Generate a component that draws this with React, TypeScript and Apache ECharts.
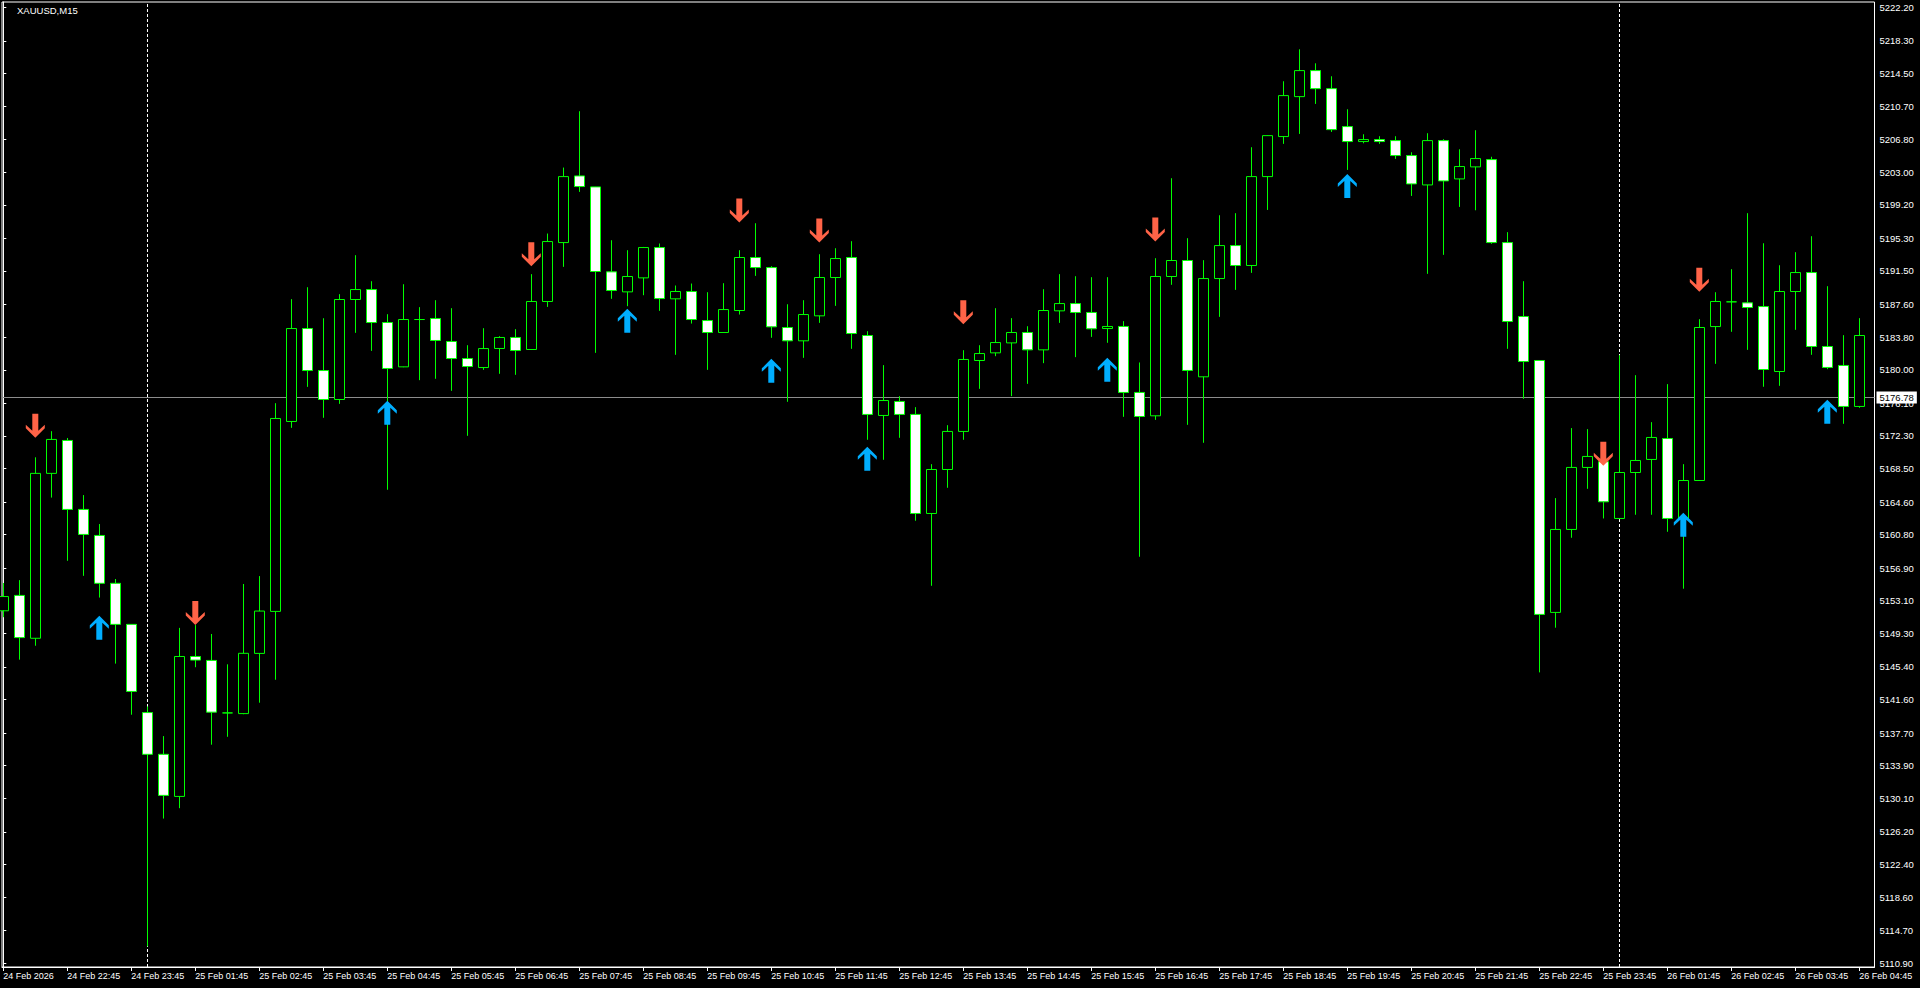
import React, { useEffect, useRef } from 'react';
import * as echarts from 'echarts';

const chartTitle = 'XAUUSD,M15';

const xTickLabels = [
  '24 Feb 2026', '24 Feb 22:45', '24 Feb 23:45',
  '25 Feb 01:45', '25 Feb 02:45', '25 Feb 03:45', '25 Feb 04:45', '25 Feb 05:45', '25 Feb 06:45',
  '25 Feb 07:45', '25 Feb 08:45', '25 Feb 09:45', '25 Feb 10:45', '25 Feb 11:45', '25 Feb 12:45',
  '25 Feb 13:45', '25 Feb 14:45', '25 Feb 15:45', '25 Feb 16:45', '25 Feb 17:45', '25 Feb 18:45',
  '25 Feb 19:45', '25 Feb 20:45', '25 Feb 21:45', '25 Feb 22:45', '25 Feb 23:45',
  '26 Feb 01:45', '26 Feb 02:45', '26 Feb 03:45', '26 Feb 04:45',
];
const barsPerLabel = 4;

const yTickLabels = [
  '5222.20', '5218.30', '5214.50', '5210.70', '5206.80', '5203.00', '5199.20', '5195.30',
  '5191.50', '5187.60', '5183.80', '5180.00', '5176.10', '5172.30', '5168.50', '5164.60',
  '5160.80', '5156.90', '5153.10', '5149.30', '5145.40', '5141.60', '5137.70', '5133.90',
  '5130.10', '5126.20', '5122.40', '5118.60', '5114.70', '5110.90',
];

const opens = [
  5151.94, 5153.73, 5148.74, 5167.94, 5171.77, 5163.74, 5160.71, 5155.14, 5150.36, 5140.09,
  5135.23, 5130.33, 5146.62, 5146.16, 5140.05, 5139.97, 5146.98, 5151.87, 5173.98, 5184.80,
  5179.91, 5176.54, 5188.18, 5189.34, 5185.50, 5180.34, 5185.85, 5185.97, 5183.29, 5181.31,
  5180.26, 5182.48, 5183.76, 5182.36, 5187.95, 5194.81, 5202.57, 5201.29, 5191.40, 5189.07,
  5190.70, 5194.23, 5188.26, 5189.11, 5185.73, 5184.34, 5186.90, 5193.07, 5191.90, 5184.92,
  5183.37, 5186.28, 5190.74, 5193.07, 5183.99, 5174.68, 5176.31, 5174.80, 5163.27, 5168.39,
  5172.82, 5181.08, 5181.97, 5183.13, 5184.34, 5182.32, 5186.86, 5187.71, 5186.67, 5184.80,
  5185.04, 5177.36, 5174.64, 5190.86, 5192.72, 5179.18, 5190.62, 5194.46, 5192.14, 5202.49,
  5207.15, 5211.80, 5214.83, 5212.73, 5208.31, 5206.57, 5206.80, 5206.68, 5204.94, 5201.52,
  5206.68, 5202.22, 5203.62, 5204.47, 5194.81, 5186.20, 5181.08, 5151.75, 5161.41, 5168.63,
  5169.30, 5162.69, 5168.04, 5169.56, 5172.00, 5162.69, 5167.11, 5185.03, 5187.91, 5187.79,
  5187.36, 5179.80, 5189.11, 5191.32, 5182.71, 5180.50, 5175.73,
];
const closes = [
  5153.60, 5148.82, 5167.94, 5171.89, 5163.74, 5160.83, 5155.14, 5150.36, 5142.55, 5135.23,
  5130.45, 5146.62, 5146.20, 5140.14, 5140.05, 5146.99, 5151.91, 5174.33, 5184.80, 5179.91,
  5176.54, 5188.18, 5189.34, 5185.50, 5180.15, 5185.85, 5185.85, 5183.41, 5181.31, 5180.38,
  5182.47, 5183.76, 5182.24, 5187.95, 5194.93, 5202.49, 5201.33, 5191.44, 5189.23, 5190.86,
  5194.23, 5188.29, 5189.11, 5185.85, 5184.34, 5187.01, 5193.07, 5191.90, 5185.00, 5183.37,
  5186.43, 5190.74, 5192.95, 5184.22, 5174.80, 5176.42, 5174.80, 5163.27, 5168.39, 5172.82,
  5181.20, 5181.89, 5183.17, 5184.34, 5182.32, 5186.90, 5187.71, 5186.67, 5184.77, 5185.04,
  5177.36, 5174.56, 5190.86, 5192.72, 5179.92, 5190.62, 5194.46, 5192.14, 5202.49, 5207.26,
  5211.92, 5214.83, 5212.73, 5207.96, 5206.57, 5206.80, 5206.57, 5204.94, 5201.64, 5206.68,
  5201.99, 5203.66, 5204.59, 5194.81, 5185.62, 5180.96, 5151.52, 5161.41, 5168.63, 5169.91,
  5164.63, 5168.04, 5169.44, 5172.12, 5162.69, 5167.11, 5184.92, 5187.95, 5187.91, 5187.25,
  5180.03, 5189.11, 5191.32, 5182.71, 5180.27, 5175.73, 5183.99,
];
const lows = [
  5151.19, 5146.25, 5147.87, 5165.12, 5157.76, 5156.01, 5153.48, 5145.79, 5139.84, 5112.87,
  5127.75, 5128.96, 5145.37, 5136.35, 5137.27, 5139.90, 5141.24, 5143.91, 5173.24, 5178.01,
  5174.41, 5176.03, 5184.30, 5182.20, 5166.03, 5180.30, 5178.79, 5178.95, 5177.55, 5172.31,
  5179.99, 5179.53, 5179.41, 5182.30, 5187.32, 5191.98, 5200.71, 5181.97, 5188.26, 5187.40,
  5188.68, 5186.86, 5181.74, 5185.38, 5179.99, 5184.30, 5186.43, 5190.93, 5183.72, 5176.27,
  5181.39, 5185.46, 5187.44, 5182.44, 5171.85, 5169.52, 5172.08, 5162.42, 5154.85, 5166.26,
  5171.85, 5177.78, 5181.58, 5176.93, 5178.36, 5180.77, 5185.46, 5181.47, 5183.83, 5183.14,
  5174.52, 5158.23, 5174.17, 5189.89, 5173.59, 5171.50, 5186.16, 5189.30, 5191.28, 5198.61,
  5206.30, 5207.46, 5210.95, 5207.69, 5203.27, 5206.37, 5206.30, 5204.55, 5200.24, 5191.17,
  5193.38, 5198.96, 5198.57, 5194.66, 5182.44, 5176.62, 5144.77, 5149.97, 5160.44, 5166.14,
  5162.69, 5162.60, 5163.12, 5163.12, 5161.14, 5154.51, 5167.10, 5180.69, 5184.42, 5182.32,
  5178.02, 5178.13, 5184.65, 5181.74, 5180.07, 5173.71, 5175.57,
];
const highs = [
  5155.18, 5155.51, 5169.81, 5172.85, 5172.06, 5165.41, 5162.04, 5155.64, 5150.36, 5140.80,
  5137.35, 5149.95, 5150.28, 5149.24, 5145.71, 5155.06, 5155.98, 5176.11, 5188.22, 5189.61,
  5186.00, 5188.80, 5193.34, 5190.31, 5186.47, 5189.96, 5187.29, 5188.10, 5187.17, 5182.86,
  5184.84, 5183.91, 5184.73, 5191.13, 5195.86, 5203.54, 5210.10, 5201.30, 5195.08, 5193.92,
  5194.30, 5194.70, 5189.81, 5190.04, 5189.03, 5190.08, 5193.92, 5197.06, 5192.06, 5187.63,
  5188.10, 5193.45, 5194.15, 5194.97, 5184.49, 5180.54, 5176.93, 5175.65, 5169.01, 5173.55,
  5182.28, 5182.86, 5187.17, 5186.01, 5185.07, 5189.38, 5191.13, 5190.89, 5190.78, 5190.78,
  5185.66, 5180.85, 5192.99, 5202.30, 5195.32, 5192.76, 5197.99, 5198.23, 5205.91, 5207.30,
  5213.59, 5217.31, 5215.68, 5214.17, 5210.33, 5207.42, 5207.19, 5207.19, 5205.32, 5207.54,
  5206.84, 5205.67, 5207.89, 5204.80, 5196.02, 5190.31, 5181.10, 5165.06, 5173.21, 5173.09,
  5170.00, 5181.70, 5179.37, 5173.90, 5178.33, 5169.01, 5185.89, 5189.03, 5191.71, 5198.23,
  5194.73, 5192.17, 5193.69, 5195.55, 5189.73, 5184.03, 5186.01,
];

const upArrowBars = [6, 24, 39, 48, 54, 69, 84, 105, 114];
const upArrowPrices = [5151.36, 5176.38, 5187.09, 5181.27, 5171.03, 5181.39, 5202.80, 5163.35, 5176.50];
const downArrowBars = [2, 12, 33, 46, 51, 60, 72, 100, 106];
const downArrowPrices = [5172.10, 5150.28, 5192.06, 5197.14, 5194.81, 5185.31, 5194.93, 5168.82, 5189.07];

const separatorBars = [9, 101];
const bidPrice = 5176.78;

const priceMin = 5110.469;
const priceMax = 5222.817;
const barMin = -0.08125;
const barMax = 116.95;

const FONT = "'Liberation Sans', Arial, sans-serif";
const UP_PATH = 'path://M9.5,0 L19,9.5 L19,13 L12.5,7 L12.5,24 L6.5,24 L6.5,7 L0,13 L0,9.5 Z';
const DOWN_PATH = 'path://M9.5,24 L19,14.5 L19,11 L12.5,17 L12.5,0 L6.5,0 L6.5,17 L0,11 L0,14.5 Z';

export default function App() {
  const ref = useRef<HTMLDivElement>(null);

  useEffect(() => {
    if (!ref.current) return;
    const chart = echarts.init(ref.current, null, { renderer: 'svg' });

    const candleData = opens.map((o, i) => [i, o, closes[i], lows[i], highs[i]]);
    const tickBars = xTickLabels.map((_, k) => k * barsPerLabel);
    const yTickValues = yTickLabels.map((s) => parseFloat(s));

    chart.setOption({
      animation: false,
      backgroundColor: '#000',
      title: {
        text: chartTitle,
        left: 17,
        top: 5,
        padding: 0,
        textStyle: { color: '#fff', fontSize: 9.5, fontWeight: 'normal', fontFamily: FONT },
      },
      grid: {
        left: 2,
        top: 2,
        right: 45.5,
        bottom: 21,
        show: true,
        borderColor: '#fff',
        borderWidth: 1,
        backgroundColor: '#000',
        containLabel: false,
      },
      xAxis: {
        type: 'value',
        min: barMin,
        max: barMax,
        position: 'bottom',
        splitLine: { show: false },
        axisLine: { show: true, lineStyle: { color: '#fff', width: 1 } },
        axisTick: { show: true, length: 4, lineStyle: { color: '#fff' }, customValues: tickBars },
        axisLabel: {
          show: true,
          customValues: tickBars,
          align: 'left',
          margin: 4,
          color: '#fff',
          fontSize: 9,
          fontFamily: FONT,
          formatter: (v: number) => xTickLabels[Math.round(v / barsPerLabel)] ?? '',
        },
      },
      yAxis: {
        type: 'value',
        position: 'right',
        min: priceMin,
        max: priceMax,
        scale: true,
        splitLine: { show: false },
        axisLine: { show: true, lineStyle: { color: '#fff', width: 1 } },
        axisTick: { show: true, length: 3, lineStyle: { color: '#fff' }, customValues: yTickValues },
        axisLabel: {
          show: true,
          customValues: yTickValues,
          margin: 5,
          color: '#fff',
          fontSize: 9.5,
          fontFamily: FONT,
          formatter: (v: number) => v.toFixed(2),
        },
      },
      series: [
        {
          type: 'line',
          data: [],
          silent: true,
          z: 1,
          markLine: {
            silent: true,
            symbol: 'none',
            animation: false,
            z: 1,
            data: [
              {
                yAxis: bidPrice,
                lineStyle: { color: '#8c8c8c', type: 'solid', width: 1 },
                label: {
                  show: true,
                  position: 'end',
                  distance: 2,
                  formatter: bidPrice.toFixed(2),
                  color: '#000',
                  backgroundColor: '#fff',
                  padding: [1, 3, 1, 3],
                  fontSize: 9.5,
                  fontFamily: FONT,
                },
              },
              ...separatorBars.map((b) => ({
                xAxis: b,
                lineStyle: { color: '#fff', type: [3, 2], width: 1 },
                label: { show: false },
              })),
            ],
          },
        },
        {
          type: 'candlestick',
          data: candleData,
          encode: { x: 0, y: [1, 2, 3, 4] },
          barWidth: 10,
          z: 10,
          silent: true,
          itemStyle: {
            color: '#000',
            color0: '#fff',
            borderColor: '#00ff00',
            borderColor0: '#00ff00',
            borderColorDoji: '#00ff00',
            borderWidth: 1,
          },
        },
        {
          type: 'scatter',
          data: upArrowBars.map((b, i) => [b, upArrowPrices[i]]),
          symbol: UP_PATH,
          symbolSize: [19, 24],
          symbolOffset: [0, '50%'],
          silent: true,
          z: 12,
          itemStyle: { color: '#00aeff', opacity: 1 },
        },
        {
          type: 'scatter',
          data: downArrowBars.map((b, i) => [b, downArrowPrices[i]]),
          symbol: DOWN_PATH,
          symbolSize: [19, 24],
          symbolOffset: [0, '-50%'],
          silent: true,
          z: 12,
          itemStyle: { color: '#ff6347', opacity: 1 },
        },
      ],
    });

    return () => chart.dispose();
  }, []);

  return (
    <div
      ref={ref}
      style={{ position: 'fixed', left: 0, top: 0, width: 1920, height: 988, background: '#000' }}
    />
  );
}
